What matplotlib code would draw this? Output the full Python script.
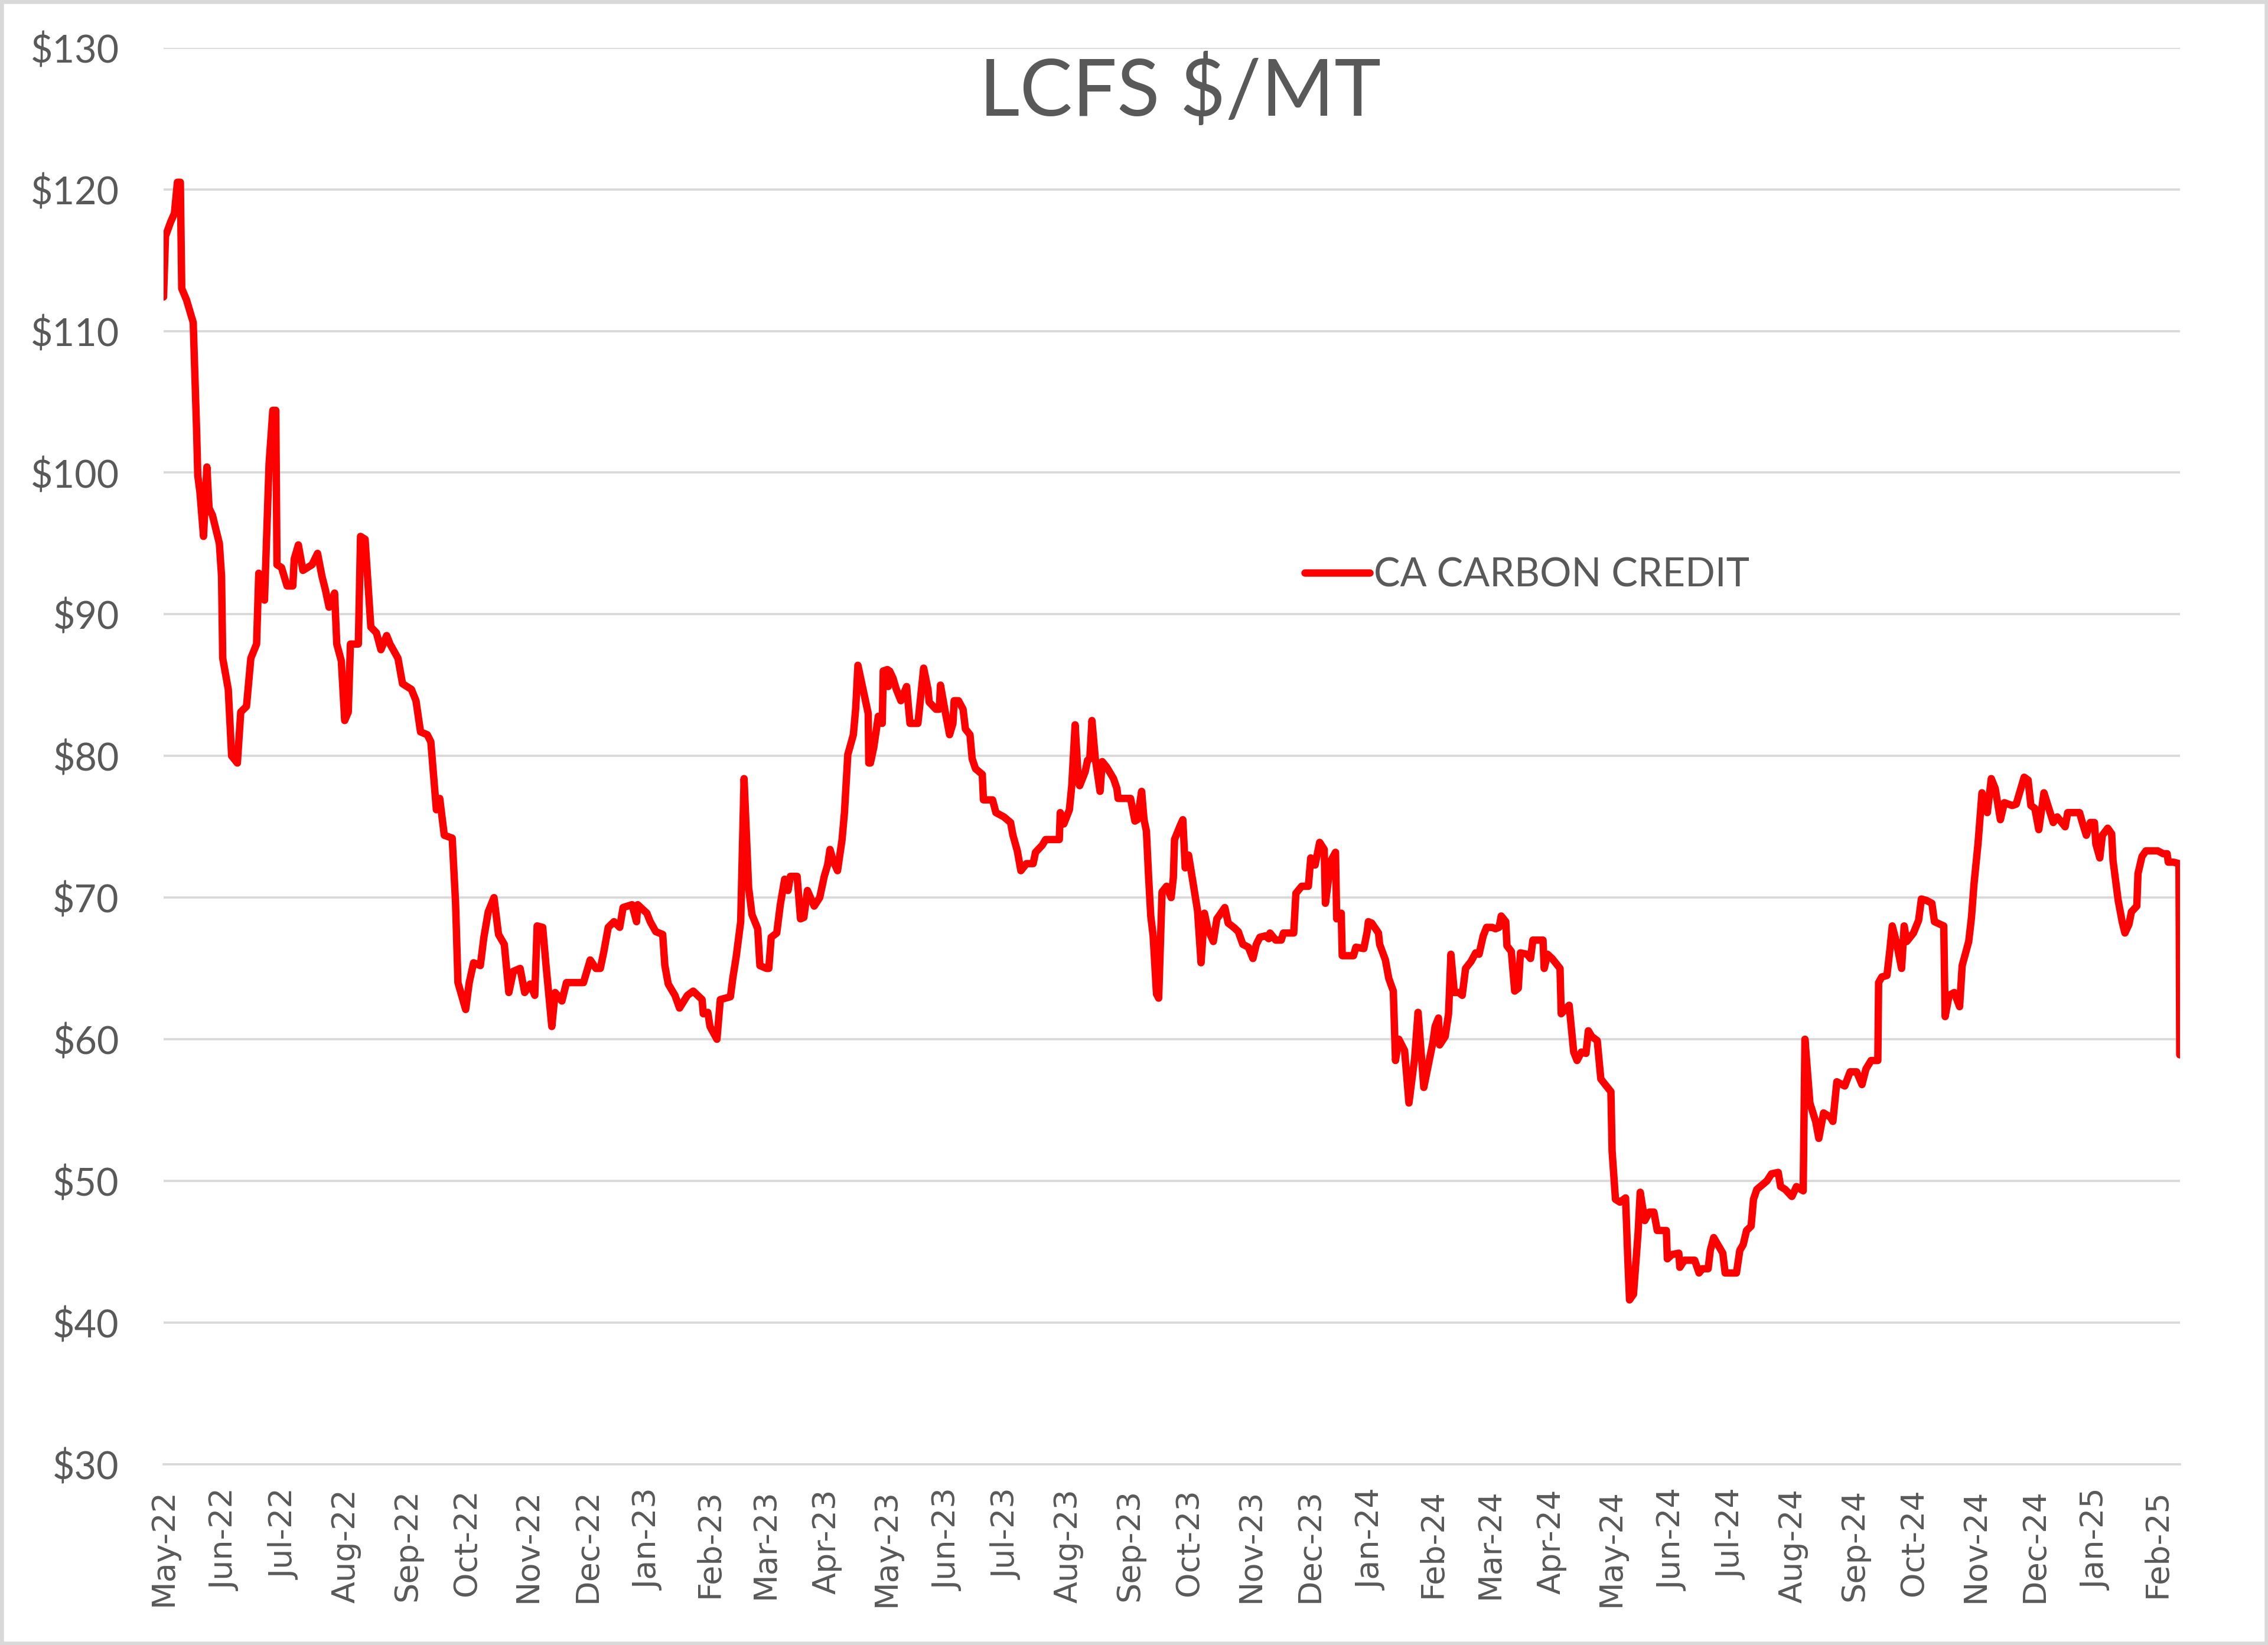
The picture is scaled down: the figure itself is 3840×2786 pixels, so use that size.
import matplotlib
matplotlib.use("Agg")
import matplotlib.pyplot as plt
import matplotlib.dates as mdates
from matplotlib.ticker import MultipleLocator, FuncFormatter
from matplotlib.patches import Rectangle
import pandas as pd

# data: days after start_date, price in $/MT
start_date = "2022-05-01"
day_offset = [
    0, 1, 3.6, 5.5, 7, 8.5, 9.2, 11.6, 15, 16.7, 17.3, 18.4, 20.2, 21.9, 23, 24.7,
    28.2, 29.3, 29.9, 32.7, 34.4, 37.3, 39, 41.9, 44.1, 47, 48.1, 51, 53.3, 55.2,
    56.7, 57.3, 59.6, 62.4, 65.3, 66, 68.1, 70.4, 72.7, 75, 77.8, 80, 81.8, 83.6,
    86.4, 87.5, 89.8, 91.5, 93.3, 94.4, 98.4, 99.5, 101.8, 104.7, 107.5, 109.8,
    112.7, 114.4, 118.4, 120.7, 125.2, 127.5, 129.8, 133.2, 135, 137.8, 139.5,
    141.8, 145.8, 147.5, 148.7, 152.6, 154.4, 156.6, 160, 161.8, 164, 166.9, 169.2,
    172.1, 174.4, 176.7, 180.1, 182.4, 185.2, 187.5, 188.7, 191.5, 193.2, 196.1,
    197.8, 201.2, 203.5, 212.1, 215.5, 218.4, 220.6, 222.4, 224.6, 227.5, 230.4,
    232.1, 236.6, 238.9, 239.5, 244.1, 245.8, 248.6, 252.1, 253.2, 254.9, 258.3,
    260.6, 264.6, 267.5, 272, 272.6, 274.9, 276, 279.5, 281.2, 286.3, 287.5, 289.2,
    291.5, 293.2, 295.5, 297.2, 300.1, 301.2, 304.6, 305.7, 306.9, 309.7, 311.5,
    313.7, 315.4, 316.6, 320, 321.7, 323.4, 325.2, 328.6, 331.4, 333.7, 335.4,
    336.6, 338.2, 340.4, 342.7, 343.9, 345.6, 348.4, 349.6, 350.7, 353, 355.9,
    356.2, 357, 358.7, 361, 363, 363.5, 365.6, 366, 366.7, 368.4, 370.1, 372.4,
    375.3, 377, 381, 383.9, 386.1, 386.7, 390.1, 391.8, 392.4, 394.7, 397, 398.7,
    399.3, 401.5, 403.8, 405, 407.3, 408.4, 410.1, 413.5, 414.1, 418.7, 420.4,
    424.4, 427.8, 429, 431.2, 433, 435.8, 439.2, 440.4, 443.8, 445.5, 452.4, 452.9,
    454.7, 457.5, 458.7, 460.4, 462.1, 462.7, 465.5, 466.7, 467.8, 468.9, 470.6,
    473, 474.1, 476.4, 479.8, 481.5, 482.1, 488.4, 490.6, 491.8, 494, 495.2, 496.4,
    497.5, 498.6, 499.8, 501.5, 502.6, 504.3, 506.6, 508.9, 510, 510.6, 513.5,
    514.8, 516, 517.7, 520, 522.2, 524, 525.7, 527.4, 530.2, 532, 536, 537.7, 540.5,
    542.8, 545.1, 547.9, 550.2, 551.9, 553.7, 556.5, 558.2, 558.8, 561.7, 564.5,
    565.6, 570.8, 571.9, 574.8, 578.2, 579.4, 581.6, 583.9, 586.2, 586.8, 589.6,
    591.9, 592.5, 594.8, 595.3, 601, 602.2, 606.2, 607.9, 608.5, 610.2, 613.6,
    614.2, 617.1, 618.8, 621.1, 622.2, 623.9, 626.8, 629, 631.9, 633.6, 636.5,
    641.1, 642.2, 643.9, 644.5, 647.3, 649, 650.2, 651.9, 654.2, 655.9, 657.6,
    660.4, 662.7, 664.4, 666.5, 668.2, 671, 672.7, 674.5, 675.6, 677.9, 678.5,
    680.7, 682.4, 684.2, 685.3, 688.7, 690.4, 691.6, 696.7, 697.3, 699, 701.3,
    705.3, 705.9, 709.9, 712.2, 713.9, 716.1, 718.4, 719.6, 721.3, 724.1, 725.9,
    728.7, 731, 731.6, 733.3, 735.6, 738.4, 739.6, 740.4, 742.4, 744.7, 745.8,
    748.1, 750.4, 752.7, 754.4, 759, 759.5, 761.8, 765.3, 765.8, 768.1, 773.3,
    775.5, 777.2, 780.1, 781.2, 782.9, 787.5, 788.7, 794.4, 796.1, 797.8, 799.5,
    801.8, 803, 804.7, 809.8, 812.1, 815.5, 816.7, 819, 822.4, 824.7, 828.1, 829,
    831.5, 834.4, 836, 838.4, 841.8, 843.1, 845.1, 849.1, 851.8, 855.1, 857.8,
    859.8, 862.4, 865.8, 866.2, 867.8, 870.4, 871.8, 873.1, 875.1, 877.8, 879.1,
    880.4, 883.8, 886.4, 887.8, 890.4, 893.1, 894.4, 899.1, 899.8, 901.8, 904.4,
    907.1, 908.4, 911.7, 913.1, 914.4, 916.4, 918.4, 921.1, 923.1, 925.1, 927.7,
    929.7, 933.7, 935.7, 939.7, 941.7, 943.1, 945.1, 947.1, 949.7, 952.4, 954.4,
    956.4, 960.4, 961.7, 967.7, 969.1, 971.1, 973.1, 975.2, 975.9, 977.9, 979.2,
    981.9, 983.9, 984.6, 987.2, 989.2, 990.6, 992.6, 993.9, 996.6, 997.2, 999.2,
    1001.2, 1007.2, 1009.9, 1011.9, 1012.5, 1015.2, 1017.9, 1018.3,
]
price = [
    112.4, 116.7, 117.7, 118.3, 120.5, 120.5, 113, 112.2, 110.6, 103, 99.8, 98.6, 95.5, 100.4, 97.5, 97,
    95, 92.7, 86.9, 84.7, 80, 79.5, 83.1, 83.5, 86.9, 87.9, 92.9, 91, 100.6, 104.4,
    104.4, 93.5, 93.3, 92, 92, 93.9, 94.9, 93.1, 93.3, 93.5, 94.3, 92.7, 91.7, 90.5,
    91.5, 87.9, 86.7, 82.5, 83.1, 87.9, 87.9, 95.5, 95.3, 89.1, 88.7, 87.5,
    88.5, 87.9, 86.9, 85.1, 84.7, 83.9, 81.7, 81.5, 81, 76.2, 77,
    74.4, 74.2, 69.6, 64, 62.1, 64, 65.4, 65.2, 67.2, 69, 70, 67.4,
    66.7, 63.3, 64.8, 65, 63.3, 63.9, 63.1, 68, 67.9, 65.2, 60.9,
    63.3, 62.7, 64, 64, 65.6, 65, 65, 66.2, 67.9, 68.3, 67.9,
    69.3, 69.5, 68.3, 69.5, 68.9, 68.3, 67.6, 67.4, 65.2, 63.9, 63.1,
    62.2, 63.1, 63.4, 62.8, 61.8, 61.9, 60.9, 60, 62.8, 63, 64.3, 65.8,
    68.3, 78.4, 70.7, 68.8, 67.8, 65.2, 65, 65, 67.2, 67.5, 69.5,
    71.3, 70.5, 71.5, 71.5, 68.5, 68.6, 70.5, 69.4, 70, 71.5, 72.3,
    73.4, 72.6, 71.9, 74.1, 76, 80.1, 81.5, 83.4, 86.4, 84.9, 83,
    79.5, 79.5, 80.6, 82.8, 82.3, 86, 86.1, 84.9, 86, 85.5, 84.7, 83.9,
    84.9, 82.3, 82.3, 86.2, 84.7, 83.8, 83.3, 83.3, 85, 83.2, 81.5, 82.3,
    83.9, 83.9, 83.3, 81.9, 81.5, 79.8, 79.1, 78.7, 76.9, 76.9, 76,
    75.7, 75.3, 74.4, 73.3, 71.9, 72.4, 72.4, 73.2, 73.7, 74.1, 74.1, 76,
    75.2, 76.2, 77.9, 82.2, 78.1, 77.9, 78.9, 79.7, 79.8, 82.5, 79.8,
    77.5, 79.6, 79.2, 78.4, 77.7, 77, 77, 75.4, 75.5, 77.5, 75.5, 74.7,
    71.5, 68.7, 67.3, 63.2, 62.9, 70.4, 70.8, 70, 71.4, 74.1, 75.1,
    75.5, 72.1, 73, 71, 69.1, 65.4, 68.9, 67.8, 66.9, 68.5, 69.3, 68.2, 67.9,
    67.6, 66.7, 66.5, 65.7, 66.7, 67.2, 67.3, 67.1, 67.5, 67, 67,
    67.5, 67.5, 70.3, 70.8, 70.8, 72.8, 72.3, 73.9, 73.4, 69.6, 72.6,
    73.2, 68.5, 68.9, 65.9, 65.9, 66.5, 66.4, 67.6, 68.3, 68.2, 67.5,
    66.7, 65.6, 64.3, 63.4, 58.5, 60, 59.2, 55.5, 58.7, 61.9, 56.6,
    59.8, 60.9, 61.5, 59.6, 60.2, 61.8, 66, 63.3, 63.3, 63.1, 65,
    65.5, 66.1, 66, 67.3, 67.9, 67.9, 67.8, 67.9, 68.7, 68.3, 66.6,
    66.2, 63.4, 63.6, 66.1, 66, 65.7, 67, 67, 65, 66, 65.7,
    65, 61.8, 62.4, 59.1, 58.5, 59.1, 59, 60.6, 60.2, 59.9, 57.2,
    56.7, 56.3, 52.1, 48.7, 48.5, 48.8, 44.2, 41.6, 42, 46.3, 49.2,
    47.2, 47.8, 47.8, 46.5, 46.5, 44.5, 44.8, 44.9, 43.9, 44.4, 44.4,
    43.5, 43.8, 43.8, 45.1, 46, 44.9, 43.5, 43.5, 45.1, 45.5, 46.5,
    46.8, 48.7, 49.4, 50, 50.5, 50.6, 49.6, 49.4, 48.9, 49.6, 49.3, 60,
    55.5, 54.2, 53, 54.8, 54.5, 54.2, 57, 56.7, 57.7, 57.7, 56.8,
    57.9, 58.5, 58.5, 64, 64.4, 64.5, 66.2, 68, 66.9, 65, 68,
    66.9, 67.5, 68.4, 69.9, 69.8, 69.6, 68.3, 68, 61.6, 63.1, 63.3,
    62.3, 65.2, 66.9, 68.6, 71, 73.8, 77.4, 76, 78.4, 77.7, 75.5,
    76.7, 76.5, 76.6, 78.5, 78.3, 76.5, 76.3, 74.8, 77.4, 76.2, 75.3,
    75.7, 75, 76, 76, 75.3, 74.4, 75.3, 75.3, 73.8, 72.8, 74.4,
    74.9, 74.5, 72.6, 69.8, 68.3, 67.5, 68.1, 69, 69.4, 71.7, 72.9,
    73.3, 73.3, 73.1, 73.1, 72.5, 72.5, 72.4, 58.9,
]
series_name = "CA CARBON CREDIT"
title = "LCFS $/MT"

dates = pd.Timestamp(start_date) + pd.to_timedelta(day_offset, unit="D")

text_gray = "#595959"
grid_gray = "#D9D9D9"

fig = plt.figure(figsize=(12.8, 9.2867), dpi=300)
ax = fig.add_axes([0.0721, 0.1099, 0.8890, 0.8611])

ax.plot(dates, price, color="#FF0000", lw=3.0, solid_joinstyle="round",
        solid_capstyle="round", label=series_name, zorder=3)

ax.set_xlim(dates[0], dates[-1])
ax.set_ylim(30, 130)
ax.yaxis.set_major_locator(MultipleLocator(10))
ax.yaxis.set_major_formatter(FuncFormatter(lambda v, p: f"${v:.0f}"))
ax.xaxis.set_major_locator(mdates.MonthLocator())
ax.xaxis.set_major_formatter(mdates.DateFormatter("%b-%y"))

ax.grid(axis="y", color=grid_gray, lw=0.9)
ax.set_axisbelow(True)
for side in ["left", "right", "top"]:
    ax.spines[side].set_visible(False)
ax.spines["bottom"].set_color(grid_gray)
ax.spines["bottom"].set_linewidth(0.9)

ax.tick_params(axis="both", length=0)
ax.tick_params(axis="y", pad=18, labelsize=15.5, labelcolor=text_gray)
ax.tick_params(axis="x", pad=10, labelsize=13, labelcolor=text_gray)
for lbl in ax.get_yticklabels():
    lbl.set_fontfamily("Lato")
for lbl in ax.get_xticklabels():
    lbl.set_rotation(90)
    lbl.set_fontfamily("DejaVu Sans")

fig.text(0.5204, 0.944, title, ha="center", va="center", fontsize=32,
         color=text_gray, family="Lato")

leg = ax.legend(loc="center left", bbox_to_anchor=(0.566, 0.6276), frameon=False,
                borderpad=0, borderaxespad=0, handlelength=1.65, handletextpad=0.1,
                prop={"family": "Lato", "size": 16})
for t in leg.get_texts():
    t.set_color(text_gray)

fig.patches.append(Rectangle((0, 0), 1, 1, transform=fig.transFigure, fill=False,
                             ec=grid_gray, lw=3))

fig.savefig("out.png", dpi=300, facecolor="white")
